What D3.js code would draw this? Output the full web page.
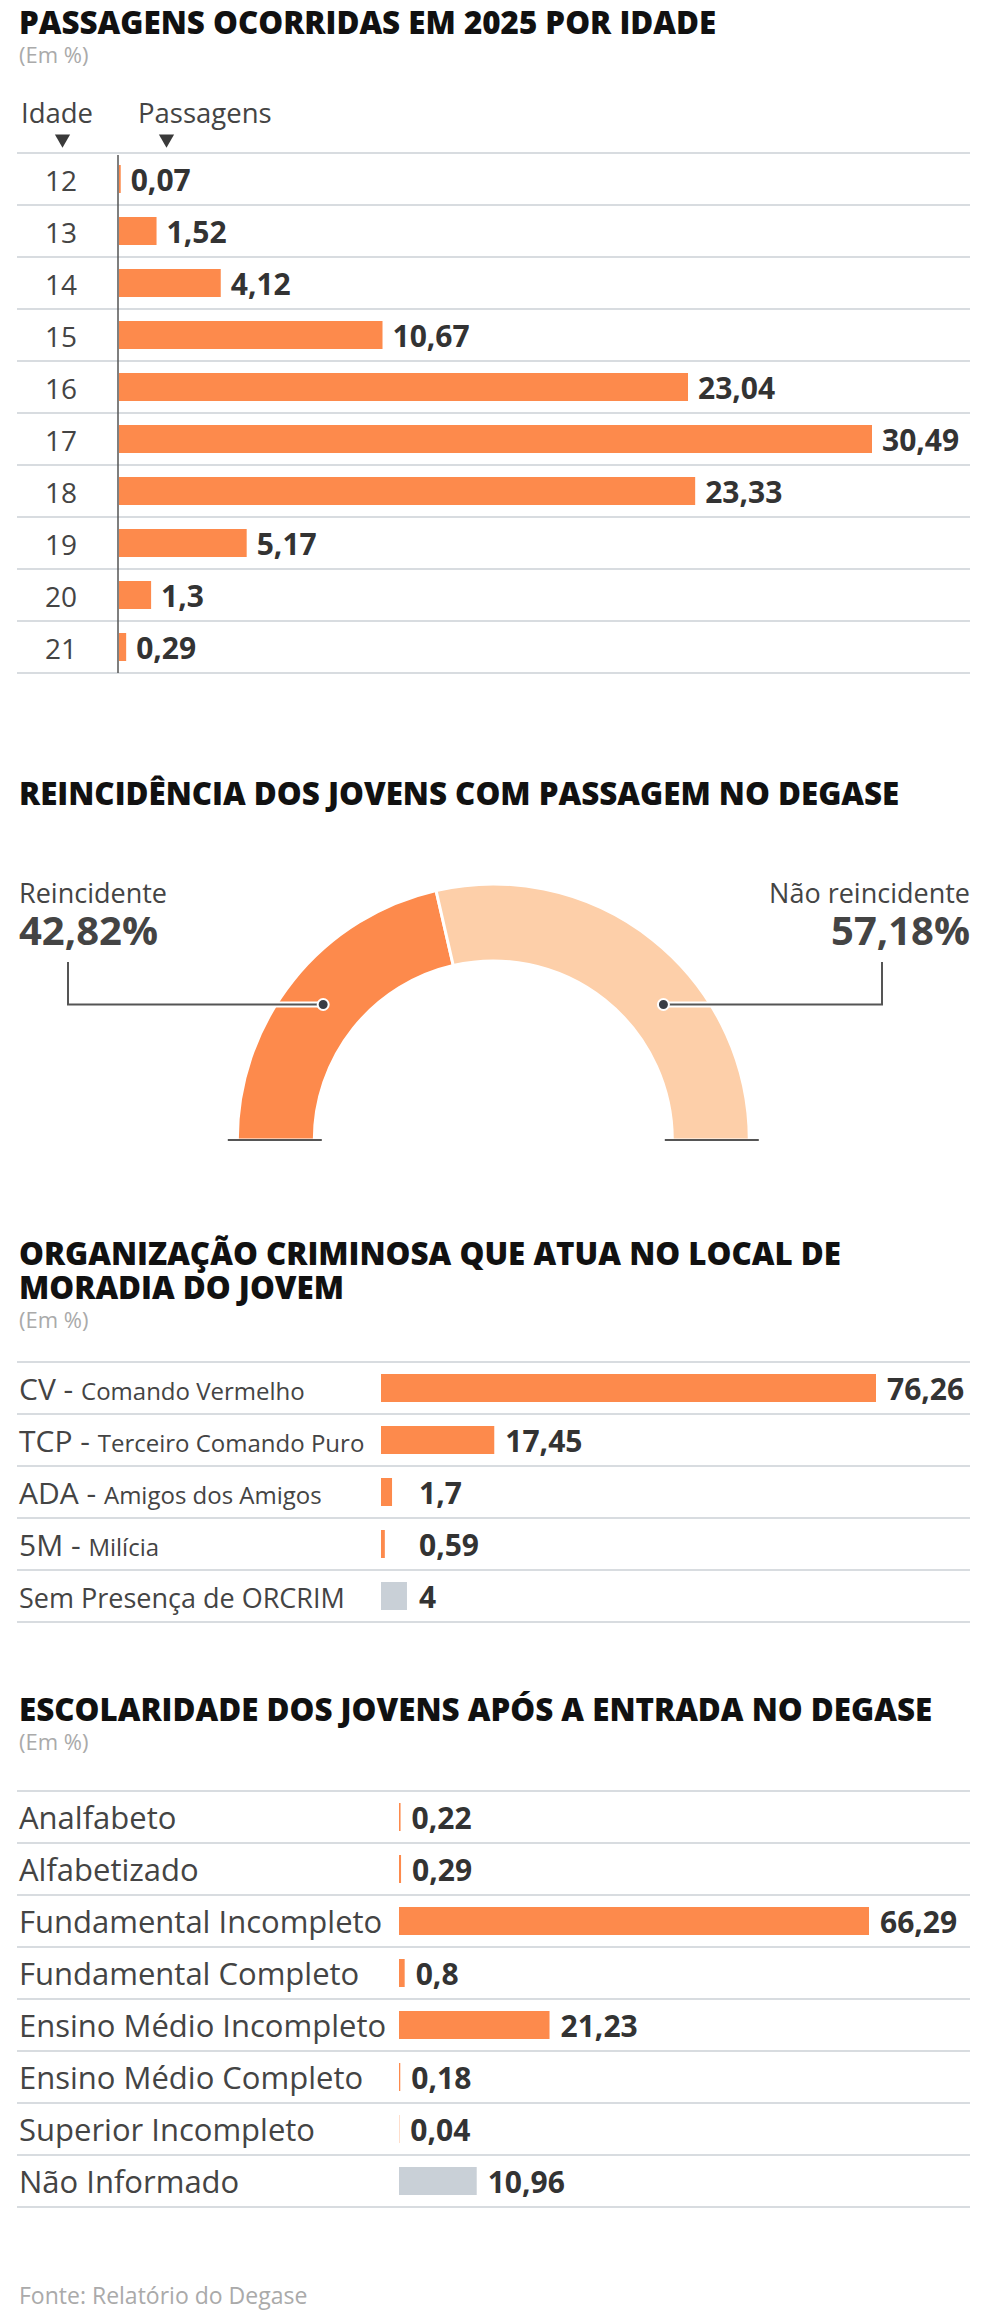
<!DOCTYPE html>
<html>
<head>
<meta charset="utf-8">
<script src="https://cdn.jsdelivr.net/npm/d3@7"></script>
<style>
  body { margin: 0; background: #fff; }
  svg { display: block; font-family: 'Open Sans', sans-serif; }
  .title { font-weight: 800; font-size: 31.3px; fill: #111; }
  .sub { font-size: 22px; fill: #aaa; }
  .cat { fill: #444; }
  .val { font-weight: 700; font-size: 30px; fill: #333; }
  .grid { stroke: #d8dce0; stroke-width: 2; }
</style>
</head>
<body>
<svg id="chart"></svg>
<script>
// passagens por idade
const ages = ['12', '13', '14', '15', '16', '17', '18', '19', '20', '21']
const agePassagens = [0.07, 1.52, 4.12, 10.67, 23.04, 30.49, 23.33, 5.17, 1.3, 0.29]

// reincidencia
const reincLabels = ['Reincidente', 'Não reincidente']
const reincValues = [42.82, 57.18]

// organizacao criminosa
const orcrimSiglas = ['CV', 'TCP', 'ADA', '5M', 'Sem Presença de ORCRIM']
const orcrimNomes = ['Comando Vermelho', 'Terceiro Comando Puro', 'Amigos dos Amigos', 'Milícia', '']
const orcrimValues = [76.26, 17.45, 1.7, 0.59, 4]

// escolaridade
const escolaridade = ['Analfabeto', 'Alfabetizado', 'Fundamental Incompleto', 'Fundamental Completo',
  'Ensino Médio Incompleto', 'Ensino Médio Completo', 'Superior Incompleto', 'Não Informado']
const escolaridadeValues = [0.22, 0.29, 66.29, 0.8, 21.23, 0.18, 0.04, 10.96]

const orange = '#fd8a4c'
const lightOrange = '#fdcfa9'
const gray = '#c9d0d7'
const fmt = v => String(v).replace('.', ',')

const width = 984, height = 2322
const left = 19, right = 970
const rowH = 52, barH = 28
const textDy = 11.5

const svg = d3.select('#chart')
  .attr('width', width)
  .attr('height', height)

function header(lines, y, sub) {
  lines.forEach((l, i) => {
    svg.append('text')
      .attr('class', 'title')
      .attr('x', left)
      .attr('y', y + i * 34)
      .text(l)
  })
  if (sub) {
    svg.append('text')
      .attr('class', 'sub')
      .attr('x', left)
      .attr('y', y + (lines.length - 1) * 34 + 29)
      .text('(Em %)')
  }
}

function rowLines(g, yScale, domain) {
  const ys = domain.map(d => yScale(d)).concat([yScale(domain[domain.length - 1]) + yScale.bandwidth()])
  g.selectAll('line.grid')
    .data(ys)
    .join('line')
    .attr('class', 'grid')
    .attr('x1', left - 2)
    .attr('x2', right)
    .attr('y1', d => d)
    .attr('y2', d => d)
}

// ---------- 1. passagens por idade ----------
header(['PASSAGENS OCORRIDAS EM 2025 POR IDADE'], 34, true)

const g1 = svg.append('g')
const y1 = d3.scaleBand().domain(ages).range([153, 153 + ages.length * rowH])
const x1 = d3.scaleLinear().domain([0, d3.max(agePassagens)]).range([119, 872])
const ageCol = 61

g1.append('text').attr('class', 'cat').attr('x', 21).attr('y', 123)
  .style('font-size', '27.5px').text('Idade')
g1.append('text').attr('class', 'cat').attr('x', 138).attr('y', 123)
  .style('font-size', '27.5px').text('Passagens')

g1.selectAll('path.tri')
  .data([ageCol + 1.5, 166.5])
  .join('path')
  .attr('class', 'tri')
  .attr('d', d3.symbol(d3.symbolTriangle, 100))
  .attr('transform', d => `translate(${d},139) rotate(180)`)
  .attr('fill', '#3a3a3a')

rowLines(g1, y1, ages)

const ageData = ages.map((a, i) => ({age: a, value: agePassagens[i]}))

g1.selectAll('rect.bar')
  .data(ageData)
  .join('rect')
  .attr('class', 'bar')
  .attr('x', x1(0))
  .attr('y', d => y1(d.age) + (rowH - barH) / 2)
  .attr('width', d => x1(d.value) - x1(0))
  .attr('height', barH)
  .attr('fill', orange)

g1.append('line')
  .attr('x1', 118).attr('x2', 118)
  .attr('y1', 155).attr('y2', y1.range()[1])
  .attr('stroke', '#555').attr('stroke-width', 1.5)

g1.selectAll('text.age')
  .data(ageData)
  .join('text')
  .attr('class', 'cat age')
  .attr('x', ageCol)
  .attr('y', d => y1(d.age) + rowH / 2 + textDy)
  .attr('text-anchor', 'middle')
  .style('font-size', '28px')
  .text(d => d.age)

g1.selectAll('text.val')
  .data(ageData)
  .join('text')
  .attr('class', 'val')
  .attr('x', d => x1(d.value) + 10)
  .attr('y', d => y1(d.age) + rowH / 2 + textDy)
  .text(d => fmt(d.value))

// ---------- 2. reincidencia ----------
header(['REINCIDÊNCIA DOS JOVENS COM PASSAGEM NO DEGASE'], 805, false)

const cx = 493.3, cy = 1140, outerR = 256, innerR = 179
const g2 = svg.append('g').attr('transform', `translate(${cx},${cy})`)

const pie = d3.pie().sort(null).startAngle(-Math.PI / 2).endAngle(Math.PI / 2)
const arc = d3.arc().innerRadius(innerR).outerRadius(outerR)
const slices = pie(reincValues)

g2.selectAll('path.slice')
  .data(slices)
  .join('path')
  .attr('class', 'slice')
  .attr('d', arc)
  .attr('fill', (d, i) => i === 0 ? orange : lightOrange)
  .attr('stroke', '#fff')
  .attr('stroke-width', 3)

// base ticks
g2.selectAll('line.base')
  .data([-1, 1])
  .join('line')
  .attr('class', 'base')
  .attr('x1', s => s * (outerR + 9.5))
  .attr('x2', s => s * (innerR - 7.5))
  .attr('y1', 0).attr('y2', 0)
  .attr('stroke', '#555').attr('stroke-width', 2)

// leaders: dots placed on the arc, mirrored on each side
const c0 = arc.centroid(slices[0])
const dots = [[c0[0], c0[1], 68 - cx], [-c0[0], c0[1], 882 - cx]]
const labelTop = 962 - cy

dots.forEach(d => {
  const pts = [[d[2], labelTop], [d[2], d[1]], [d[0], d[1]]]
  g2.append('path')
    .attr('d', d3.line()(pts.slice(1)))
    .attr('fill', 'none').attr('stroke', '#fff').attr('stroke-width', 6)
  g2.append('path')
    .attr('d', d3.line()(pts))
    .attr('fill', 'none').attr('stroke', '#555').attr('stroke-width', 2)
  g2.append('circle')
    .attr('cx', d[0]).attr('cy', d[1]).attr('r', 5.5)
    .attr('fill', '#3a3d45').attr('stroke', '#fff').attr('stroke-width', 2)
})

reincLabels.forEach((l, i) => {
  const x = i === 0 ? left : right
  const anchor = i === 0 ? 'start' : 'end'
  svg.append('text').attr('class', 'cat')
    .attr('x', x).attr('y', 903).attr('text-anchor', anchor)
    .style('font-size', '27px').text(l)
  svg.append('text')
    .attr('x', x).attr('y', 945).attr('text-anchor', anchor)
    .style('font-size', '40px').style('font-weight', 700).attr('fill', '#444')
    .text(fmt(reincValues[i]) + '%')
})

// ---------- 3. organizacao criminosa ----------
header(['ORGANIZAÇÃO CRIMINOSA QUE ATUA NO LOCAL DE', 'MORADIA DO JOVEM'], 1265, true)

const g3 = svg.append('g')
const y3 = d3.scaleBand().domain(orcrimSiglas).range([1362, 1362 + orcrimSiglas.length * rowH])
const x3 = d3.scaleLinear().domain([0, d3.max(orcrimValues)]).range([381, 876])
const orcrimData = orcrimSiglas.map((s, i) => ({sigla: s, nome: orcrimNomes[i], value: orcrimValues[i]}))

rowLines(g3, y3, orcrimSiglas)

g3.selectAll('rect.bar')
  .data(orcrimData)
  .join('rect')
  .attr('class', 'bar')
  .attr('x', x3(0))
  .attr('y', d => y3(d.sigla) + (rowH - barH) / 2)
  .attr('width', d => x3(d.value) - x3(0))
  .attr('height', barH)
  .attr('fill', d => d.nome ? orange : gray)

const catText = g3.selectAll('text.cat')
  .data(orcrimData)
  .join('text')
  .attr('class', 'cat')
  .attr('x', left)
  .attr('y', d => y3(d.sigla) + rowH / 2 + textDy)

catText.append('tspan')
  .style('font-size', d => d.nome ? '30px' : '27px')
  .text(d => d.nome ? d.sigla + ' - ' : d.sigla)
catText.append('tspan')
  .style('font-size', '24px')
  .text(d => d.nome)

g3.selectAll('text.val')
  .data(orcrimData)
  .join('text')
  .attr('class', 'val')
  .attr('x', d => Math.max(x3(d.value), x3(0) + 27) + 11)
  .attr('y', d => y3(d.sigla) + rowH / 2 + textDy)
  .text(d => fmt(d.value))

// ---------- 4. escolaridade ----------
header(['ESCOLARIDADE DOS JOVENS APÓS A ENTRADA NO DEGASE'], 1721, true)

const g4 = svg.append('g')
const y4 = d3.scaleBand().domain(escolaridade).range([1791, 1791 + escolaridade.length * rowH])
const x4 = d3.scaleLinear().domain([0, d3.max(escolaridadeValues)]).range([399, 869])
const escData = escolaridade.map((e, i) => ({nivel: e, value: escolaridadeValues[i]}))

rowLines(g4, y4, escolaridade)

g4.selectAll('rect.bar')
  .data(escData)
  .join('rect')
  .attr('class', 'bar')
  .attr('x', x4(0))
  .attr('y', d => y4(d.nivel) + (rowH - barH) / 2)
  .attr('width', d => x4(d.value) - x4(0))
  .attr('height', barH)
  .attr('fill', d => d.nivel === 'Não Informado' ? gray : orange)

g4.selectAll('text.cat')
  .data(escData)
  .join('text')
  .attr('class', 'cat')
  .attr('x', left)
  .attr('y', d => y4(d.nivel) + rowH / 2 + textDy)
  .style('font-size', '31px')
  .text(d => d.nivel)

g4.selectAll('text.val')
  .data(escData)
  .join('text')
  .attr('class', 'val')
  .attr('x', d => x4(d.value) + 11)
  .attr('y', d => y4(d.nivel) + rowH / 2 + textDy)
  .text(d => fmt(d.value))

// fonte
svg.append('text')
  .attr('class', 'sub')
  .attr('x', left)
  .attr('y', 2304)
  .style('font-size', '23px')
  .text('Fonte: Relatório do Degase')
</script>
</body>
</html>
